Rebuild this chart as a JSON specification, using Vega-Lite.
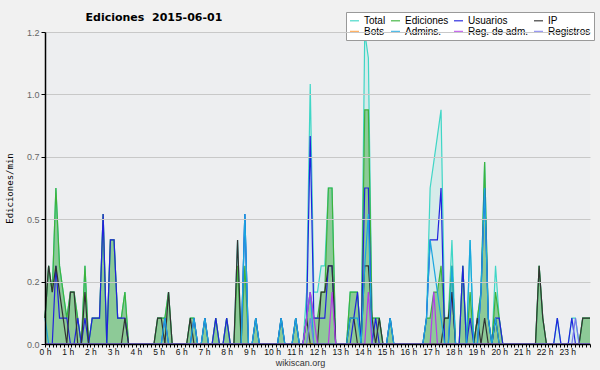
{
  "$schema": "https://vega.github.io/schema/vega-lite/v6.json",
  "width": 545,
  "height": 312,
  "autosize": "none",
  "padding": {"left": 45, "top": 32, "right": 10, "bottom": 26},
  "background": "#f1f1f1",
  "config": {"view": {"fill": "#edeef0", "stroke": null}},
  "title": {"text": "Ediciones\u00a0 2015-06-01", "anchor": "start", "dx": 80, "offset": -11, "font": "DejaVu Sans", "fontSize": 11, "fontWeight": "bold", "color": "#000000"},
  "data": {"values": [
    {"m":0,"T":0.104,"E":0.104,"U":0,"I":0.104,"B":0,"A":0.104,"R":0,"G":0},
    {"m":9.6,"T":0.313,"E":0.313,"U":0,"I":0.313,"B":0,"A":0,"R":0,"G":0},
    {"m":19.2,"T":0.208,"E":0.208,"U":0,"I":0.208,"B":0,"A":0,"R":0,"G":0},
    {"m":28.8,"T":0.625,"E":0.625,"U":0.313,"I":0.313,"B":0,"A":0,"R":0,"G":0},
    {"m":38.4,"T":0.313,"E":0.313,"U":0.104,"I":0.208,"B":0,"A":0,"R":0,"G":0},
    {"m":48,"T":0.208,"E":0.208,"U":0.104,"I":0.104,"B":0,"A":0,"R":0,"G":0},
    {"m":57.6,"T":0.104,"E":0.104,"U":0.104,"I":0,"B":0,"A":0,"R":0,"G":0},
    {"m":67.2,"T":0.208,"E":0.208,"U":0,"I":0.208,"B":0,"A":0,"R":0,"G":0},
    {"m":76.8,"T":0.208,"E":0.208,"U":0,"I":0.208,"B":0,"A":0,"R":0,"G":0},
    {"m":86.4,"T":0.104,"E":0.104,"U":0.104,"I":0,"B":0,"A":0,"R":0,"G":0},
    {"m":96,"T":0,"E":0,"U":0,"I":0,"B":0,"A":0,"R":0,"G":0},
    {"m":105.6,"T":0.313,"E":0.313,"U":0.104,"I":0.208,"B":0,"A":0,"R":0,"G":0},
    {"m":115.2,"T":0,"E":0,"U":0,"I":0,"B":0,"A":0,"R":0,"G":0},
    {"m":124.8,"T":0.104,"E":0.104,"U":0.104,"I":0,"B":0,"A":0,"R":0,"G":0},
    {"m":134.4,"T":0.104,"E":0.104,"U":0.104,"I":0,"B":0,"A":0,"R":0,"G":0},
    {"m":144,"T":0.104,"E":0.104,"U":0.104,"I":0,"B":0,"A":0,"R":0,"G":0},
    {"m":153.6,"T":0.521,"E":0.521,"U":0.521,"I":0,"B":0,"A":0,"R":0,"G":0},
    {"m":163.2,"T":0,"E":0,"U":0,"I":0,"B":0,"A":0,"R":0,"G":0},
    {"m":172.8,"T":0.417,"E":0.417,"U":0.417,"I":0,"B":0,"A":0,"R":0,"G":0},
    {"m":182.4,"T":0.417,"E":0.417,"U":0.417,"I":0,"B":0,"A":0,"R":0,"G":0},
    {"m":192,"T":0.104,"E":0.104,"U":0.104,"I":0,"B":0,"A":0,"R":0,"G":0},
    {"m":201.6,"T":0.104,"E":0.104,"U":0.104,"I":0,"B":0,"A":0,"R":0,"G":0},
    {"m":211.2,"T":0.208,"E":0.208,"U":0.104,"I":0.104,"B":0,"A":0,"R":0,"G":0},
    {"m":220.8,"T":0,"E":0,"U":0,"I":0,"B":0,"A":0,"R":0,"G":0},
    {"m":288,"T":0,"E":0,"U":0,"I":0,"B":0,"A":0,"R":0,"G":0},
    {"m":297.6,"T":0.104,"E":0.104,"U":0,"I":0.104,"B":0,"A":0,"R":0,"G":0},
    {"m":307.2,"T":0.104,"E":0.104,"U":0,"I":0.104,"B":0,"A":0,"R":0,"G":0},
    {"m":316.8,"T":0.104,"E":0.104,"U":0.104,"I":0,"B":0,"A":0.104,"R":0,"G":0},
    {"m":326.4,"T":0.208,"E":0.208,"U":0,"I":0.208,"B":0,"A":0,"R":0,"G":0},
    {"m":336,"T":0,"E":0,"U":0,"I":0,"B":0,"A":0,"R":0,"G":0},
    {"m":374.4,"T":0,"E":0,"U":0,"I":0,"B":0,"A":0,"R":0,"G":0},
    {"m":384,"T":0.104,"E":0.104,"U":0,"I":0.104,"B":0,"A":0,"R":0,"G":0},
    {"m":393.6,"T":0.104,"E":0.104,"U":0.104,"I":0,"B":0,"A":0.104,"R":0,"G":0},
    {"m":403.2,"T":0,"E":0,"U":0,"I":0,"B":0,"A":0,"R":0,"G":0},
    {"m":412.8,"T":0,"E":0,"U":0,"I":0,"B":0,"A":0,"R":0,"G":0},
    {"m":422.4,"T":0.104,"E":0.104,"U":0.104,"I":0,"B":0,"A":0.104,"R":0,"G":0},
    {"m":432,"T":0,"E":0,"U":0,"I":0,"B":0,"A":0,"R":0,"G":0},
    {"m":441.6,"T":0,"E":0,"U":0,"I":0,"B":0,"A":0,"R":0,"G":0},
    {"m":451.2,"T":0.104,"E":0.104,"U":0.104,"I":0,"B":0,"A":0,"R":0,"G":0},
    {"m":460.8,"T":0,"E":0,"U":0,"I":0,"B":0,"A":0,"R":0,"G":0},
    {"m":470.4,"T":0,"E":0,"U":0,"I":0,"B":0,"A":0,"R":0,"G":0},
    {"m":480,"T":0.104,"E":0.104,"U":0.104,"I":0,"B":0,"A":0,"R":0,"G":0},
    {"m":489.6,"T":0,"E":0,"U":0,"I":0,"B":0,"A":0,"R":0,"G":0},
    {"m":499.2,"T":0,"E":0,"U":0,"I":0,"B":0,"A":0,"R":0,"G":0},
    {"m":508.8,"T":0.417,"E":0.313,"U":0,"I":0.417,"B":0,"A":0,"R":0,"G":0},
    {"m":518.4,"T":0,"E":0,"U":0,"I":0,"B":0,"A":0,"R":0,"G":0},
    {"m":528,"T":0.521,"E":0.313,"U":0.521,"I":0,"B":0,"A":0.521,"R":0,"G":0},
    {"m":537.6,"T":0,"E":0,"U":0,"I":0,"B":0,"A":0,"R":0,"G":0},
    {"m":547.2,"T":0,"E":0,"U":0,"I":0,"B":0,"A":0,"R":0,"G":0},
    {"m":556.8,"T":0.104,"E":0.104,"U":0.104,"I":0,"B":0,"A":0.104,"R":0,"G":0},
    {"m":566.4,"T":0,"E":0,"U":0,"I":0,"B":0,"A":0,"R":0,"G":0},
    {"m":614.4,"T":0,"E":0,"U":0,"I":0,"B":0,"A":0,"R":0,"G":0},
    {"m":624,"T":0.104,"E":0.104,"U":0.104,"I":0,"B":0,"A":0.104,"R":0,"G":0},
    {"m":633.6,"T":0,"E":0,"U":0,"I":0,"B":0,"A":0,"R":0,"G":0},
    {"m":652.8,"T":0,"E":0,"U":0,"I":0,"B":0,"A":0,"R":0,"G":0},
    {"m":662.4,"T":0.104,"E":0.104,"U":0.104,"I":0,"B":0,"A":0.104,"R":0,"G":0},
    {"m":672,"T":0,"E":0,"U":0,"I":0,"B":0,"A":0,"R":0,"G":0},
    {"m":681.6,"T":0,"E":0,"U":0,"I":0,"B":0,"A":0,"R":0,"G":0},
    {"m":691.2,"T":0.208,"E":0.104,"U":0.104,"I":0.104,"B":0,"A":0.104,"R":0.104,"G":0},
    {"m":700.8,"T":1.042,"E":0.208,"U":0.833,"I":0,"B":0,"A":0.208,"R":0.208,"G":0.104},
    {"m":710.4,"T":0.208,"E":0.104,"U":0.104,"I":0,"B":0,"A":0,"R":0.104,"G":0},
    {"m":720,"T":0.208,"E":0.104,"U":0.104,"I":0,"B":0,"A":0,"R":0,"G":0},
    {"m":729.6,"T":0.313,"E":0.208,"U":0.104,"I":0.208,"B":0,"A":0,"R":0,"G":0},
    {"m":739.2,"T":0.313,"E":0.208,"U":0.104,"I":0.208,"B":0,"A":0,"R":0,"G":0},
    {"m":748.8,"T":0.625,"E":0.625,"U":0.313,"I":0.313,"B":0,"A":0,"R":0,"G":0},
    {"m":758.4,"T":0.625,"E":0.625,"U":0.313,"I":0.313,"B":0,"A":0,"R":0.208,"G":0},
    {"m":768,"T":0,"E":0,"U":0,"I":0,"B":0,"A":0,"R":0,"G":0},
    {"m":796.8,"T":0,"E":0,"U":0,"I":0,"B":0,"A":0,"R":0,"G":0},
    {"m":806.4,"T":0.208,"E":0.208,"U":0,"I":0.104,"B":0,"A":0.104,"R":0,"G":0},
    {"m":816,"T":0.208,"E":0.208,"U":0.104,"I":0.104,"B":0,"A":0.104,"R":0,"G":0},
    {"m":825.6,"T":0.208,"E":0.208,"U":0.208,"I":0,"B":0,"A":0.104,"R":0,"G":0},
    {"m":835.2,"T":0,"E":0,"U":0,"I":0,"B":0,"A":0,"R":0,"G":0},
    {"m":844.8,"T":1.25,"E":0.938,"U":0.625,"I":0.313,"B":0,"A":0.313,"R":0,"G":0},
    {"m":854.4,"T":1.146,"E":0.938,"U":0.625,"I":0.313,"B":0,"A":0.521,"R":0.208,"G":0},
    {"m":864,"T":0.104,"E":0.104,"U":0,"I":0.104,"B":0,"A":0,"R":0,"G":0},
    {"m":873.6,"T":0.104,"E":0.104,"U":0.104,"I":0,"B":0,"A":0,"R":0,"G":0},
    {"m":883.2,"T":0.104,"E":0.104,"U":0,"I":0.104,"B":0,"A":0,"R":0,"G":0},
    {"m":892.8,"T":0,"E":0,"U":0,"I":0,"B":0,"A":0,"R":0,"G":0},
    {"m":902.4,"T":0,"E":0,"U":0,"I":0,"B":0,"A":0,"R":0,"G":0},
    {"m":912,"T":0.104,"E":0.104,"U":0.104,"I":0,"B":0,"A":0.104,"R":0,"G":0},
    {"m":921.6,"T":0,"E":0,"U":0,"I":0,"B":0,"A":0,"R":0,"G":0},
    {"m":998.4,"T":0,"E":0,"U":0,"I":0,"B":0,"A":0,"R":0,"G":0},
    {"m":1008,"T":0.104,"E":0.104,"U":0.104,"I":0,"B":0,"A":0.104,"R":0,"G":0},
    {"m":1017.6,"T":0.625,"E":0.104,"U":0.417,"I":0,"B":0,"A":0.417,"R":0,"G":0},
    {"m":1027.2,"T":0.729,"E":0.208,"U":0.417,"I":0,"B":0,"A":0.313,"R":0.208,"G":0},
    {"m":1036.8,"T":0.833,"E":0.208,"U":0.417,"I":0,"B":0,"A":0.208,"R":0,"G":0},
    {"m":1046.4,"T":0.938,"E":0.313,"U":0.625,"I":0,"B":0,"A":0.104,"R":0,"G":0},
    {"m":1056,"T":0.104,"E":0.104,"U":0,"I":0.104,"B":0,"A":0,"R":0,"G":0},
    {"m":1065.6,"T":0.104,"E":0.104,"U":0,"I":0.104,"B":0,"A":0,"R":0,"G":0},
    {"m":1075.2,"T":0.417,"E":0.313,"U":0.208,"I":0.208,"B":0,"A":0.313,"R":0,"G":0},
    {"m":1084.8,"T":0,"E":0,"U":0,"I":0,"B":0,"A":0,"R":0,"G":0},
    {"m":1094.4,"T":0,"E":0,"U":0,"I":0,"B":0,"A":0,"R":0,"G":0},
    {"m":1104,"T":0.313,"E":0.313,"U":0.313,"I":0,"B":0,"A":0,"R":0,"G":0},
    {"m":1113.6,"T":0,"E":0,"U":0,"I":0,"B":0,"A":0,"R":0,"G":0},
    {"m":1123.2,"T":0.417,"E":0.208,"U":0.104,"I":0,"B":0,"A":0.417,"R":0,"G":0},
    {"m":1132.8,"T":0,"E":0,"U":0,"I":0,"B":0,"A":0,"R":0,"G":0},
    {"m":1142.4,"T":0.104,"E":0.104,"U":0,"I":0.104,"B":0,"A":0,"R":0,"G":0},
    {"m":1152,"T":0.208,"E":0.208,"U":0.208,"I":0,"B":0,"A":0.208,"R":0,"G":0},
    {"m":1161.6,"T":0.729,"E":0.729,"U":0.625,"I":0.104,"B":0,"A":0.625,"R":0,"G":0},
    {"m":1171.2,"T":0.104,"E":0.104,"U":0.104,"I":0,"B":0,"A":0.104,"R":0,"G":0},
    {"m":1180.8,"T":0,"E":0,"U":0,"I":0,"B":0,"A":0,"R":0,"G":0},
    {"m":1190.4,"T":0.313,"E":0.208,"U":0.104,"I":0.104,"B":0,"A":0.104,"R":0,"G":0},
    {"m":1200,"T":0.104,"E":0.104,"U":0.104,"I":0,"B":0,"A":0,"R":0,"G":0},
    {"m":1209.6,"T":0,"E":0,"U":0,"I":0,"B":0,"A":0,"R":0,"G":0},
    {"m":1296,"T":0,"E":0,"U":0,"I":0,"B":0,"A":0,"R":0,"G":0},
    {"m":1305.6,"T":0.313,"E":0.313,"U":0,"I":0.313,"B":0,"A":0,"R":0,"G":0},
    {"m":1315.2,"T":0.104,"E":0.104,"U":0,"I":0.104,"B":0,"A":0,"R":0,"G":0},
    {"m":1324.8,"T":0,"E":0,"U":0,"I":0,"B":0,"A":0,"R":0,"G":0},
    {"m":1344,"T":0,"E":0,"U":0,"I":0,"B":0,"A":0,"R":0,"G":0},
    {"m":1353.6,"T":0.104,"E":0,"U":0.104,"I":0,"B":0,"A":0,"R":0,"G":0},
    {"m":1363.2,"T":0,"E":0,"U":0,"I":0,"B":0,"A":0,"R":0,"G":0},
    {"m":1382.4,"T":0,"E":0,"U":0,"I":0,"B":0,"A":0,"R":0,"G":0},
    {"m":1392,"T":0.104,"E":0,"U":0.104,"I":0,"B":0,"A":0,"R":0,"G":0},
    {"m":1401.6,"T":0.104,"E":0,"U":0,"I":0,"B":0,"A":0,"R":0,"G":0.104},
    {"m":1411.2,"T":0,"E":0,"U":0,"I":0,"B":0,"A":0,"R":0,"G":0},
    {"m":1420.8,"T":0.104,"E":0.104,"U":0,"I":0.104,"B":0,"A":0,"R":0,"G":0},
    {"m":1430.4,"T":0.104,"E":0.104,"U":0,"I":0.104,"B":0,"A":0,"R":0,"G":0},
    {"m":1440,"T":0.104,"E":0.104,"U":0,"I":0.104,"B":0,"A":0,"R":0,"G":0}
  ]},
  "encoding": {
    "x": {
      "field": "m", "type": "quantitative",
      "scale": {"domain": [0, 1440], "nice": false, "zero": false},
      "axis": {
        "values": [0,10,20,30,40,50,60,70,80,90,100,110,120,130,140,150,160,170,180,190,200,210,220,230,240,250,260,270,280,290,300,310,320,330,340,350,360,370,380,390,400,410,420,430,440,450,460,470,480,490,500,510,520,530,540,550,560,570,580,590,600,610,620,630,640,650,660,670,680,690,700,710,720,730,740,750,760,770,780,790,800,810,820,830,840,850,860,870,880,890,900,910,920,930,940,950,960,970,980,990,1000,1010,1020,1030,1040,1050,1060,1070,1080,1090,1100,1110,1120,1130,1140,1150,1160,1170,1180,1190,1200,1210,1220,1230,1240,1250,1260,1270,1280,1290,1300,1310,1320,1330,1340,1350,1360,1370,1380,1390,1400,1410,1420,1430,1440],
        "labelExpr": "datum.value % 60 == 0 && datum.value < 1440 ? (datum.value / 60) + ' h' : ''",
        "labelOverlap": false, "labelFlush": false, "labelBound": false,
        "grid": false, "tickSize": 3, "tickColor": "#000000", "tickWidth": 1,
        "domainColor": "#000000", "domainWidth": 1.5,
        "labelFont": "Liberation Sans", "labelFontSize": 8.5, "labelColor": "#111111", "labelPadding": 0,
        "title": "wikiscan.org", "titleFont": "Liberation Sans", "titleFontSize": 9, "titleFontWeight": "normal", "titleColor": "#333333",
        "titleX": 255, "titleY": 21, "titleAlign": "center", "titleBaseline": "alphabetic",
        "zindex": 1
      }
    }
  },
  "layer": [
    {
      "mark": {"type": "area", "color": "#40d8c0", "opacity": 0.13},
      "encoding": {
        "y": {
          "field": "T", "type": "quantitative",
          "scale": {"domain": [0, 1.25], "nice": false},
          "title": "Ediciones/min",
          "axis": {
            "values": [0,0.0625,0.125,0.1875,0.25,0.3125,0.375,0.4375,0.5,0.5625,0.625,0.6875,0.75,0.8125,0.875,0.9375,1,1.0625,1.125,1.1875,1.25],
            "labelExpr": "(datum.value * 4) % 1 == 0 ? format(floor(datum.value * 10 + 0.000001) / 10, '.1f') : ''",
            "labelOverlap": false, "labelFlush": false, "labelBound": false,
            "grid": true, "gridColor": "#c8c8c8", "gridWidth": 1,
            "gridOpacity": {"condition": {"test": "(datum.value * 4) % 1 == 0 && datum.value > 0", "value": 1}, "value": 0},
            "tickSize": 4, "tickColor": "#000000", "domainColor": "#000000", "domainWidth": 1.5,
            "labelFont": "Liberation Sans", "labelFontSize": 9, "labelColor": "#666666", "labelPadding": 2,
            "titleFont": "DejaVu Sans Mono", "titleFontSize": 9, "titleFontWeight": "normal", "titleColor": "#000000", "titlePadding": 12,
            "zindex": 1
          }
        }
      }
    },
    {
      "mark": {"type": "area", "color": "#44aa44", "opacity": 0.5},
      "encoding": {"y": {"field": "E", "type": "quantitative", "title": "Ediciones/min"}}
    },
    {
      "transform": [{"fold": ["T", "E", "U", "I", "B", "A", "R", "G"], "as": ["s", "v"]}],
      "mark": {"type": "line", "strokeWidth": 1.2},
      "encoding": {
        "y": {"field": "v", "type": "quantitative", "title": "Ediciones/min"},
        "color": {
          "field": "s", "type": "nominal",
          "scale": {"domain": ["T", "E", "U", "I", "B", "A", "R", "G"], "range": ["#3fd6c6", "#3db33d", "#2222dd", "#333333", "#ff9933", "#1aa6e0", "#b43ce8", "#7777ee"]},
          "legend": {
            "orient": "none", "legendX": 301, "legendY": -20, "columns": 4, "direction": "horizontal", "title": null,
            "symbolType": "stroke", "symbolSize": 81, "symbolStrokeWidth": 1.5, "symbolOpacity": 0.75,
            "labelFont": "Liberation Sans", "labelFontSize": 10, "labelColor": "#000000", "labelOffset": 4,
            "labelExpr": "{'T': 'Total', 'E': 'Ediciones', 'U': 'Usuarios', 'I': 'IP', 'B': 'Bots', 'A': 'Admins.', 'R': 'Reg. de adm.', 'G': 'Registros'}[datum.label]",
            "fillColor": "#ffffff", "strokeColor": "#999999", "padding": 3, "rowPadding": 0, "columnPadding": 2
          }
        }
      }
    },
    {
      "data": {"values": [{"lic": "CC BY-SA 3.0"}]},
      "mark": {"type": "text", "align": "right", "baseline": "alphabetic", "dy": 21, "fontSize": 7, "font": "Liberation Sans", "color": "#333333"},
      "encoding": {"x": {"datum": 1440}, "y": {"datum": 0}, "text": {"field": "lic"}}
    }
  ]
}
